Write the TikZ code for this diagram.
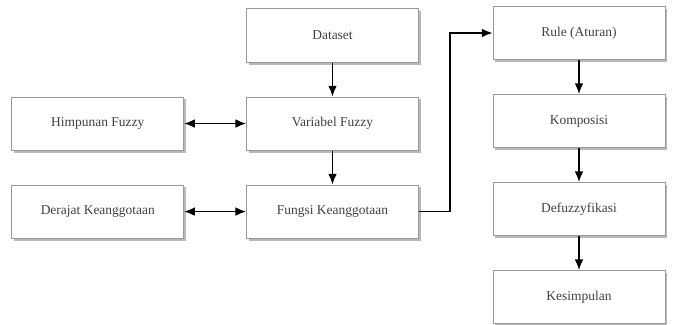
\documentclass[tikz,border=0pt]{standalone}
\usepackage{fontspec}
\setmainfont{Liberation Serif}
\usetikzlibrary{positioning,arrows.meta,shadows}

\tikzset{
box/.style={draw=gray!80, line width=0.6pt, fill=white, minimum width=5.16cm, minimum height=1.6cm,
  font=\fontsize{11.5}{13}\selectfont, text=black!75, drop shadow={shadow xshift=0.7mm, shadow yshift=-0.7mm, opacity=0.55}},
arr/.style={line width=1.3pt, -{Latex[length=3.2mm,width=2.6mm]}},
dbl/.style={line width=1.3pt, {Latex[length=3.2mm,width=2.6mm]}-{Latex[length=3.2mm,width=2.6mm]}}
}

\begin{document}
\begin{tikzpicture}
\useasboundingbox (0,0) rectangle (20.25,-9.72);
\node[box] (dataset) at (9.975,-1.065) {Dataset};
\node[box, below=1.02cm of dataset] (variabel) {Variabel Fuzzy};
\node[box, below=1.02cm of variabel] (fungsi) {Fungsi Keanggotaan};
\node[box, left=1.86cm of variabel] (himpunan) {Himpunan Fuzzy};
\node[box, left=1.86cm of fungsi] (derajat) {Derajat Keanggotaan};
\node[box] (rule) at (17.37,-0.99) {Rule (Aturan)};
\node[box, below=1.02cm of rule] (komposisi) {Komposisi};
\node[box, below=1.02cm of komposisi] (defuzzy) {Defuzzyfikasi};
\node[box, below=1.02cm of defuzzy] (kesimpulan) {Kesimpulan};

\draw[arr] (dataset) -- (variabel);
\draw[arr] (variabel) -- (fungsi);
\draw[dbl] (himpunan) -- (variabel);
\draw[dbl] (derajat) -- (fungsi);
\draw[arr] (fungsi.east) -- ++(0.93,0) |- (rule.west);
\draw[arr] (rule) -- (komposisi);
\draw[arr] (komposisi) -- (defuzzy);
\draw[arr] (defuzzy) -- (kesimpulan);
\end{tikzpicture}
\end{document}
